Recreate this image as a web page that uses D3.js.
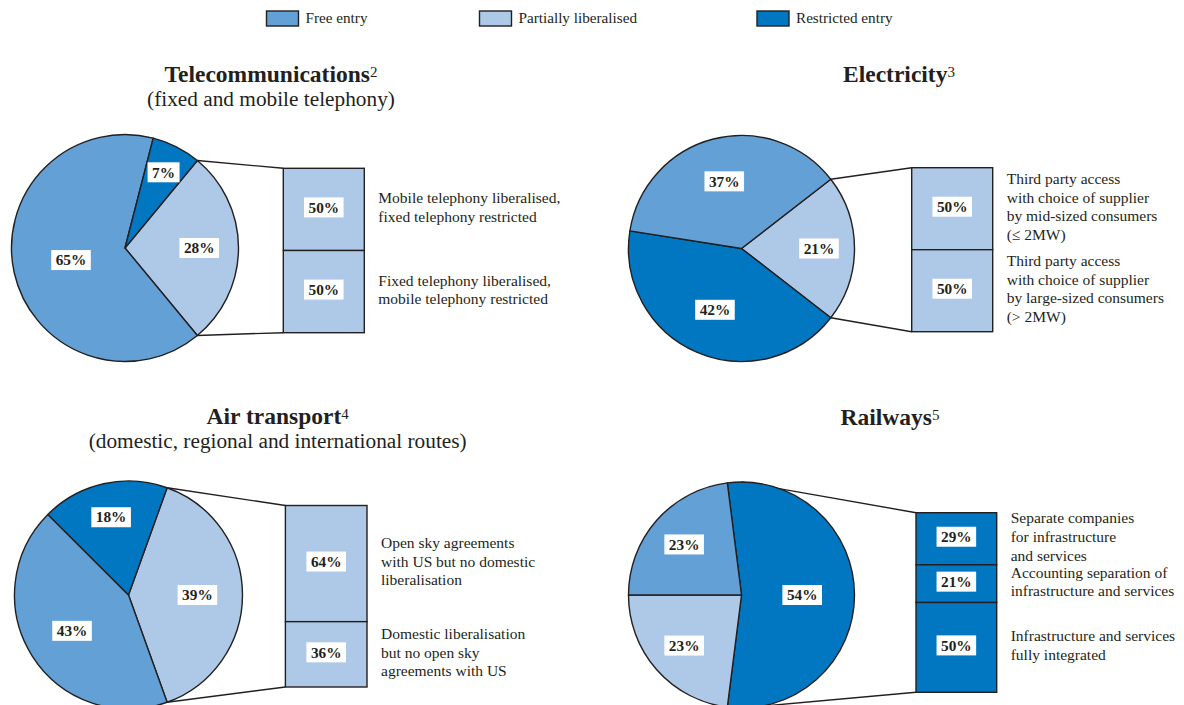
<!DOCTYPE html>
<html><head><meta charset="utf-8">
<script src="https://cdn.jsdelivr.net/npm/d3@7"></script>
<style>
body{margin:0;background:#fff}
svg{display:block}
text{font-family:"Liberation Serif","Times New Roman",serif;fill:#231f20}
</style>
</head><body><svg id="chart" width="1184" height="705"></svg>
<script>
// ---------------- DATA ----------------
const legendKeys = ["free", "partial", "restricted"];
const legendLabels = ["Free entry", "Partially liberalised", "Restricted entry"];

const telecomTitle = "Telecommunications";
const telecomNote = "2";
const telecomSubtitle = "(fixed and mobile telephony)";
const telecomSliceKeys = ["partial", "free", "restricted"];
const telecomSliceValues = [28, 65, 7];
const telecomBarValues = [50, 50];
const telecomBarTexts = [
  ["Mobile telephony liberalised,", "fixed telephony restricted"],
  ["Fixed telephony liberalised,", "mobile telephony restricted"]
];

const electricityTitle = "Electricity";
const electricityNote = "3";
const electricitySubtitle = "";
const electricitySliceKeys = ["partial", "restricted", "free"];
const electricitySliceValues = [21, 42, 37];
const electricityBarValues = [50, 50];
const electricityBarTexts = [
  ["Third party access", "with choice of supplier", "by mid-sized consumers", "(\u2264 2MW)"],
  ["Third party access", "with choice of supplier", "by large-sized consumers", "(> 2MW)"]
];

const airTitle = "Air transport";
const airNote = "4";
const airSubtitle = "(domestic, regional and international routes)";
const airSliceKeys = ["partial", "free", "restricted"];
const airSliceValues = [39, 43, 18];
const airBarValues = [64, 36];
const airBarTexts = [
  ["Open sky agreements", "with US but no domestic", "liberalisation"],
  ["Domestic liberalisation", "but no open sky", "agreements with US"]
];

const railTitle = "Railways";
const railNote = "5";
const railSubtitle = "";
const railSliceKeys = ["restricted", "partial", "free"];
const railSliceValues = [54, 23, 23];
const railBarValues = [29, 21, 50];
const railBarTexts = [
  ["Separate companies", "for infrastructure", "and services"],
  ["Accounting separation of", "infrastructure and services"],
  ["Infrastructure and services", "fully integrated"]
];

// ---------------- STYLE / LAYOUT ----------------
const colors = {free: "#62a0d6", partial: "#aec8e7", restricted: "#0077c0"};
const ink = "#231f20";

const panels = [
  {title: telecomTitle, note: telecomNote, subtitle: telecomSubtitle, keys: telecomSliceKeys, values: telecomSliceValues,
   bar: telecomBarValues, texts: telecomBarTexts,
   layout: {tx: 271, ty: 81.7, sy: 105.5, cx: 125, cy: 248, r: 113.5, bx: 283.3, by: 168.3, bw: 81, bh: 164.4}},
  {title: electricityTitle, note: electricityNote, subtitle: electricitySubtitle, keys: electricitySliceKeys, values: electricitySliceValues,
   bar: electricityBarValues, texts: electricityBarTexts,
   layout: {tx: 899, ty: 81.7, sy: 0, cx: 741.5, cy: 248.5, r: 113, bx: 911.7, by: 167.7, bw: 81, bh: 164}},
  {title: airTitle, note: airNote, subtitle: airSubtitle, keys: airSliceKeys, values: airSliceValues,
   bar: airBarValues, texts: airBarTexts,
   layout: {tx: 277.7, ty: 424.3, sy: 448.3, cx: 128.5, cy: 595, r: 114, bx: 285.4, by: 505.5, bw: 81.6, bh: 181.5}},
  {title: railTitle, note: railNote, subtitle: railSubtitle, keys: railSliceKeys, values: railSliceValues,
   bar: railBarValues, texts: railBarTexts,
   layout: {tx: 890, ty: 425, sy: 0, cx: 741.5, cy: 595, r: 113, bx: 916, by: 512.7, bw: 80.7, bh: 179.6}}
];

const svg = d3.select("#chart");
svg.append("rect").attr("width", 1184).attr("height", 705).attr("fill", "#fff");

// ---------------- LEGEND ----------------
const legendX = [266.5, 479.5, 757];
const legend = svg.append("g");
legendKeys.forEach((k, i) => {
  const g = legend.append("g").attr("transform", `translate(${legendX[i]},11)`);
  g.append("rect").attr("width", 32).attr("height", 15)
    .attr("fill", colors[k]).attr("stroke", ink).attr("stroke-width", 1.4);
  g.append("text").attr("x", 39).attr("y", 12).attr("font-size", 15.2).text(legendLabels[i]);
});

// white label box helper
function labelBox(parent, x, y, txt) {
  const g = parent.append("g");
  const t = g.append("text").attr("x", x).attr("y", y + 5.2)
    .attr("text-anchor", "middle").attr("font-size", 15.3).attr("font-weight", "bold").text(txt);
  const bb = t.node().getBBox();
  g.insert("rect", "text").attr("x", bb.x - 4.5).attr("y", y - 10).attr("width", bb.width + 9).attr("height", 20)
    .attr("fill", "#fff");
}

panels.forEach(p => {
  const L = p.layout;
  const g = svg.append("g");

  // title
  const t = g.append("text").attr("x", L.tx).attr("y", L.ty).attr("text-anchor", "middle");
  t.append("tspan").attr("font-size", 23.5).attr("font-weight", "bold").text(p.title);
  t.append("tspan").attr("font-size", 15).attr("dy", -5).text(p.note);
  if (p.subtitle) {
    g.append("text").attr("x", L.tx).attr("y", L.sy).attr("text-anchor", "middle")
      .attr("font-size", 21.3).text(p.subtitle);
  }

  // pie
  const total = d3.sum(p.values);
  const firstSpan = p.values[0] / total * 2 * Math.PI;
  const start = Math.PI / 2 - firstSpan / 2;
  const pie = d3.pie().sort(null).value(d => d.v).startAngle(start).endAngle(start + 2 * Math.PI);
  const arcs = pie(p.values.map((v, i) => ({v, k: p.keys[i]})));
  const arc = d3.arc().innerRadius(0).outerRadius(L.r);

  // bar scale
  const barTotal = d3.sum(p.bar);
  const y = d3.scaleLinear().domain([0, barTotal]).range([L.by, L.by + L.bh]);
  const stacked = [];
  let acc = 0;
  p.bar.forEach(v => { stacked.push([acc, acc + v, v]); acc += v; });

  // connector lines
  const ex = arcs[0];
  const span = ex.endAngle - ex.startAngle;
  const a0 = span > Math.PI ? 0 : ex.startAngle;
  const a1 = span > Math.PI ? Math.PI : ex.endAngle;
  const pt = a => [L.cx + L.r * Math.sin(a), L.cy - L.r * Math.cos(a)];
  const p0 = pt(a0), p1 = pt(a1);
  g.append("line").attr("x1", p0[0]).attr("y1", p0[1]).attr("x2", L.bx).attr("y2", y(0))
    .attr("stroke", ink).attr("stroke-width", 1.4);
  g.append("line").attr("x1", p1[0]).attr("y1", p1[1]).attr("x2", L.bx).attr("y2", y(barTotal))
    .attr("stroke", ink).attr("stroke-width", 1.4);

  const pg = g.append("g").attr("transform", `translate(${L.cx},${L.cy})`);
  pg.selectAll("path").data(arcs).join("path")
    .attr("d", arc).attr("fill", d => colors[d.data.k])
    .attr("stroke", ink).attr("stroke-width", 1.4).attr("stroke-linejoin", "round");

  arcs.forEach(d => {
    const share = d.data.v / total;
    const mid = (d.startAngle + d.endAngle) / 2;
    const rr = L.r * (0.78 - 0.45 * share);
    labelBox(g, L.cx + rr * Math.sin(mid), L.cy - rr * Math.cos(mid), d.data.v + "%");
  });

  // bar
  const barColor = colors[p.keys[0]];
  stacked.forEach((s, i) => {
    g.append("rect").attr("x", L.bx).attr("y", y(s[0])).attr("width", L.bw).attr("height", y(s[1]) - y(s[0]))
      .attr("fill", barColor).attr("stroke", ink).attr("stroke-width", 1.4);
  });
  stacked.forEach((s, i) => {
    const cyS = (y(s[0]) + y(s[1])) / 2 - 2;
    labelBox(g, L.bx + L.bw / 2, cyS, s[2] + "%");
    const lines = p.texts[i];
    const lh = 18.6;
    const first = cyS - (lines.length - 1) * lh / 2 + 5.2;
    const tt = g.append("text").attr("font-size", 15.5);
    lines.forEach((ln, j) => {
      tt.append("tspan").attr("x", L.bx + L.bw + 14).attr("y", first + j * lh).text(ln);
    });
  });
});
</script>
</body></html>
